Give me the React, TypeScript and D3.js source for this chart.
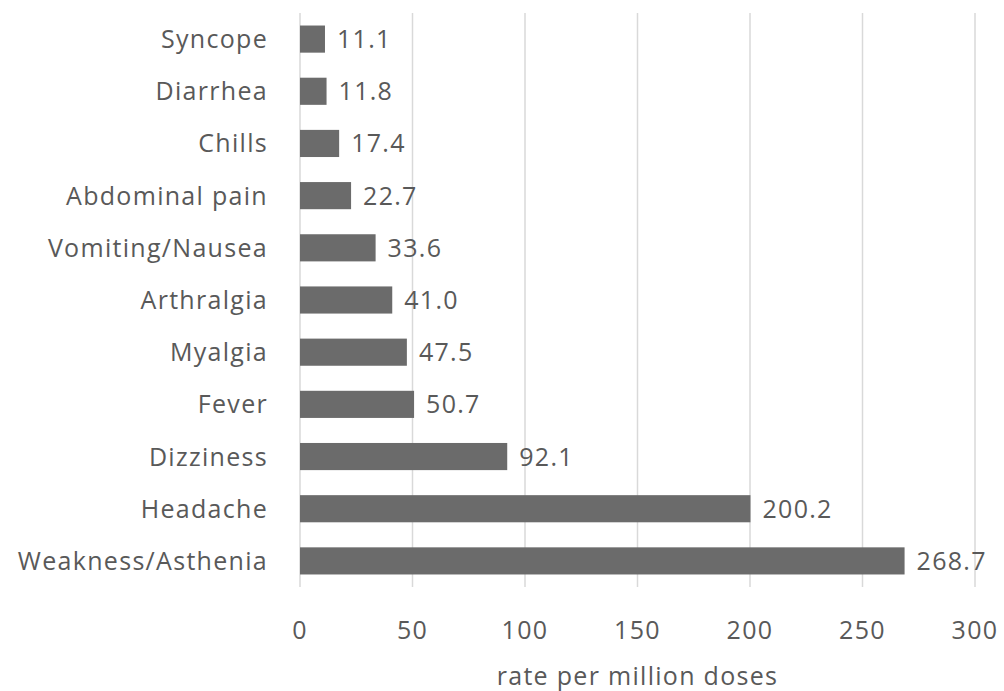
import React from "react";
import * as d3 from "d3";

const categories = ["Syncope","Diarrhea","Chills","Abdominal pain","Vomiting/Nausea","Arthralgia","Myalgia","Fever","Dizziness","Headache","Weakness/Asthenia"];
const values = [11.1,11.8,17.4,22.7,33.6,41.0,47.5,50.7,92.1,200.2,268.7];
const ticks = [0,50,100,150,200,250,300];
const axisTitle = "rate per million doses";

export default function App() {
  const W = 1004, H = 691;
  const x = d3.scaleLinear().domain([0, 300]).range([300, 975]);
  const y = d3.scaleBand<string>().domain(categories).range([13, 587]).paddingInner(0.48).paddingOuter(0.24);
  const font = "'Open Sans', sans-serif";
  const color = "#595959";
  const fs = 25;
  const ls = 1.3;
  return (
    <svg width={W} height={H} style={{ position: "absolute", left: 0, top: 0, background: "#fff" }}>
      {ticks.map(t => (
        <g key={t}>
          <line x1={x(t)} x2={x(t)} y1={13} y2={587} stroke="#d9d9d9" strokeWidth={1.5} />
          <text x={x(t)} y={639} textAnchor="middle" fontFamily={font} fontSize={fs} letterSpacing={ls} fill={color}>{t}</text>
        </g>
      ))}
      {categories.map((c, i) => (
        <g key={c}>
          <rect x={x(0)} y={y(c)!} width={x(values[i]) - x(0)} height={y.bandwidth()} fill="#6b6b6b" />
          <text x={268} y={y(c)! + y.bandwidth() / 2} dy="0.36em" textAnchor="end" fontFamily={font} fontSize={fs} letterSpacing={ls} fill={color}>{c}</text>
          <text x={x(values[i]) + 12} y={y(c)! + y.bandwidth() / 2} dy="0.36em" fontFamily={font} fontSize={fs} letterSpacing={ls} fill={color}>{values[i].toFixed(1)}</text>
        </g>
      ))}
      <text x={x(150)} y={685} textAnchor="middle" fontFamily={font} fontSize={fs} letterSpacing={ls} fill={color}>{axisTitle}</text>
    </svg>
  );
}
